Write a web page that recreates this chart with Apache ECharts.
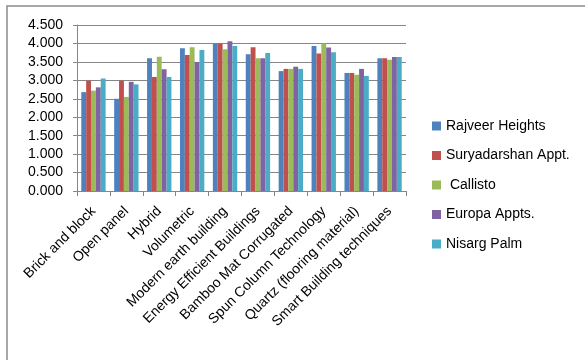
<!DOCTYPE html>
<html>
<head>
<meta charset="utf-8">
<script src="https://cdn.jsdelivr.net/npm/echarts@6/dist/echarts.min.js"></script>
<style>
  html, body { margin: 0; padding: 0; background: #fff; }
  #chart { width: 585px; height: 360px; }
</style>
</head>
<body>
<div id="chart"></div>
<script>
const categories = [
  "Brick and block", "Open panel", "Hybrid", "Volumetric",
  "Modern earth building", "Energy Efficient Buildings", "Bamboo Mat Corrugated",
  "Spun Column Technology", "Quartz (flooring material)", "Smart Building techniques"
];
const rajveer = [2.68, 2.50, 3.60, 3.87, 4.00, 3.71, 3.25, 3.93, 3.20, 3.60];
const suryadarshan = [2.99, 2.99, 3.09, 3.69, 4.00, 3.90, 3.31, 3.73, 3.20, 3.60];
const callisto = [2.72, 2.55, 3.64, 3.90, 3.84, 3.60, 3.31, 4.00, 3.15, 3.56];
const europa = [2.81, 2.96, 3.30, 3.50, 4.06, 3.60, 3.37, 3.89, 3.31, 3.63];
const nisarg = [3.05, 2.89, 3.09, 3.82, 3.93, 3.74, 3.31, 3.76, 3.12, 3.63];

const seriesNames = ["Rajveer Heights", "Suryadarshan Appt.", " Callisto", "Europa Appts.", "Nisarg Palm"];
const seriesData = [rajveer, suryadarshan, callisto, europa, nisarg];
const colors = ["#4F81BD", "#C0504D", "#9BBB59", "#8064A2", "#4BACC6"];

const font = "Liberation Sans";

const chart = echarts.init(document.getElementById("chart"));
const option = {
  animation: false,
  color: colors,
  graphic: [
    {
      type: "rect",
      shape: { x: 7, y: 6, width: 600, height: 400 },
      style: { fill: "none", stroke: "#8c8c8c", lineWidth: 1.5 }
    }
  ],
  grid: { left: 77, right: 179, top: 25, bottom: 169, containLabel: false },
  legend: {
    orient: "vertical",
    left: 427,
    top: 114,
    itemWidth: 9,
    itemHeight: 9,
    itemGap: 15.5,
    icon: "rect",
    textStyle: { fontFamily: font, fontSize: 14, color: "#000" },
    data: seriesNames
  },
  xAxis: {
    type: "category",
    data: categories,
    axisLine: { lineStyle: { color: "#868686" } },
    axisTick: { show: true, length: 5, lineStyle: { color: "#868686" } },
    axisLabel: {
      rotate: 45,
      interval: 0,
      margin: 18,
      fontFamily: font,
      fontSize: 14,
      color: "#000"
    }
  },
  yAxis: {
    type: "value",
    min: 0,
    max: 4.5,
    interval: 0.5,
    axisLine: { show: true, lineStyle: { color: "#868686" } },
    axisTick: { show: true, length: 4, lineStyle: { color: "#868686" } },
    splitLine: { lineStyle: { color: "#868686", width: 1 } },
    axisLabel: {
      margin: 14,
      fontFamily: font,
      fontSize: 14,
      color: "#000",
      formatter: v => v.toFixed(3)
    }
  },
  series: seriesNames.map((name, i) => ({
    name: name,
    type: "bar",
    data: seriesData[i],
    barGap: "0%",
    barCategoryGap: "26%"
  }))
};
chart.setOption(option);
</script>
</body>
</html>
